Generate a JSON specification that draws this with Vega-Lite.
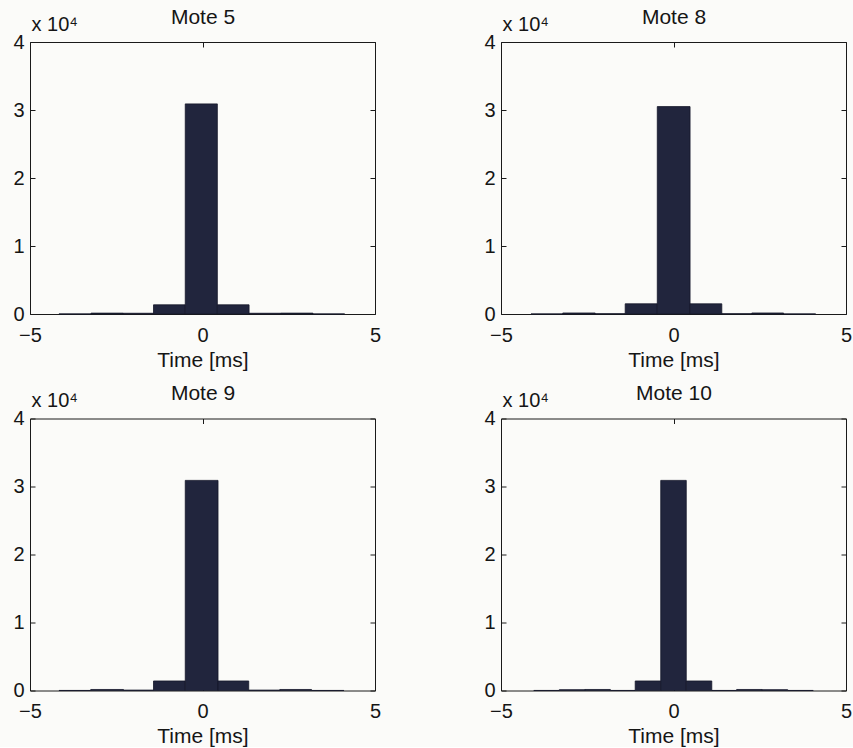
{
  "$schema": "https://vega.github.io/schema/vega-lite/v6.json",
  "background": "#fbfbf9",
  "padding": {"left": 12, "top": 5, "right": 3, "bottom": 0},
  "datasets": {"hist": [
    {"mote": "Mote 5", "x0": -4.16, "x1": -3.23, "count": 10},
    {"mote": "Mote 5", "x0": -3.23, "x1": -2.30, "count": 130},
    {"mote": "Mote 5", "x0": -2.30, "x1": -1.42, "count": 110},
    {"mote": "Mote 5", "x0": -1.42, "x1": -0.50, "count": 1350},
    {"mote": "Mote 5", "x0": -0.50, "x1": 0.43, "count": 30900},
    {"mote": "Mote 5", "x0": 0.43, "x1": 1.35, "count": 1350},
    {"mote": "Mote 5", "x0": 1.35, "x1": 2.27, "count": 110},
    {"mote": "Mote 5", "x0": 2.27, "x1": 3.20, "count": 130},
    {"mote": "Mote 5", "x0": 3.20, "x1": 4.12, "count": 10},
    {"mote": "Mote 8", "x0": -4.13, "x1": -3.21, "count": 10},
    {"mote": "Mote 8", "x0": -3.21, "x1": -2.27, "count": 150},
    {"mote": "Mote 8", "x0": -2.27, "x1": -1.40, "count": 40},
    {"mote": "Mote 8", "x0": -1.40, "x1": -0.47, "count": 1500},
    {"mote": "Mote 8", "x0": -0.47, "x1": 0.48, "count": 30500},
    {"mote": "Mote 8", "x0": 0.48, "x1": 1.40, "count": 1500},
    {"mote": "Mote 8", "x0": 1.40, "x1": 2.27, "count": 40},
    {"mote": "Mote 8", "x0": 2.27, "x1": 3.19, "count": 150},
    {"mote": "Mote 8", "x0": 3.19, "x1": 4.12, "count": 10},
    {"mote": "Mote 9", "x0": -4.16, "x1": -3.24, "count": 10},
    {"mote": "Mote 9", "x0": -3.24, "x1": -2.29, "count": 150},
    {"mote": "Mote 9", "x0": -2.29, "x1": -1.42, "count": 60},
    {"mote": "Mote 9", "x0": -1.42, "x1": -0.50, "count": 1400},
    {"mote": "Mote 9", "x0": -0.50, "x1": 0.45, "count": 30900},
    {"mote": "Mote 9", "x0": 0.45, "x1": 1.34, "count": 1400},
    {"mote": "Mote 9", "x0": 1.34, "x1": 2.24, "count": 60},
    {"mote": "Mote 9", "x0": 2.24, "x1": 3.16, "count": 150},
    {"mote": "Mote 9", "x0": 3.16, "x1": 4.10, "count": 10},
    {"mote": "Mote 10", "x0": -4.05, "x1": -3.31, "count": 10},
    {"mote": "Mote 10", "x0": -3.31, "x1": -2.57, "count": 120},
    {"mote": "Mote 10", "x0": -2.57, "x1": -1.83, "count": 150},
    {"mote": "Mote 10", "x0": -1.83, "x1": -1.11, "count": 10},
    {"mote": "Mote 10", "x0": -1.11, "x1": -0.37, "count": 1400},
    {"mote": "Mote 10", "x0": -0.37, "x1": 0.37, "count": 30900},
    {"mote": "Mote 10", "x0": 0.37, "x1": 1.11, "count": 1400},
    {"mote": "Mote 10", "x0": 1.11, "x1": 1.83, "count": 10},
    {"mote": "Mote 10", "x0": 1.83, "x1": 2.57, "count": 150},
    {"mote": "Mote 10", "x0": 2.57, "x1": 3.31, "count": 120},
    {"mote": "Mote 10", "x0": 3.31, "x1": 4.05, "count": 10}
  ]},
  "columns": 2,
  "spacing": {"row": 104.5, "column": 126},
  "bounds": "flush",
  "concat": [
    {
      "width": 345, "height": 272,
      "data": {"name": "hist"},
      "transform": [{"filter": {"field": "mote", "equal": "Mote 5"}}],
      "layer": [
        {"mark": {"type": "rect", "fill": "#21253d", "stroke": "#14172a", "strokeWidth": 0.8},
          "encoding": {
            "x": {"field": "x0", "type": "quantitative", "scale": {"domain": [-5, 5], "nice": false, "zero": false}, "axis": {"orient": "bottom", "values": [-5, 0, 5], "title": "Time [ms]"}},
            "x2": {"field": "x1"},
            "y": {"field": "count", "type": "quantitative", "scale": {"domain": [0, 40000], "nice": false}, "axis": {"orient": "left", "values": [0, 10000, 20000, 30000, 40000], "labelExpr": "datum.value / 10000", "title": "x 10⁴", "titleAngle": 0, "titleAlign": "left", "titleBaseline": "alphabetic", "titleX": 1, "titleY": -12, "titleFontSize": 20}},
            "y2": {"datum": 0}}},
        {"mark": {"type": "rect", "opacity": 0},
          "encoding": {
            "x": {"field": "x0", "type": "quantitative", "axis": {"orient": "top", "values": [-5, 0, 5], "labels": false, "title": "Mote 5", "titleBaseline": "alphabetic", "titleY": -19}},
            "x2": {"field": "x1"},
            "y": {"field": "count", "type": "quantitative", "axis": {"orient": "right", "values": [0, 10000, 20000, 30000, 40000], "labels": false, "title": null}},
            "y2": {"datum": 0}}}
      ],
      "resolve": {"axis": {"x": "independent", "y": "independent"}}
    },
    {
      "width": 345, "height": 272,
      "data": {"name": "hist"},
      "transform": [{"filter": {"field": "mote", "equal": "Mote 8"}}],
      "layer": [
        {"mark": {"type": "rect", "fill": "#21253d", "stroke": "#14172a", "strokeWidth": 0.8},
          "encoding": {
            "x": {"field": "x0", "type": "quantitative", "scale": {"domain": [-5, 5], "nice": false, "zero": false}, "axis": {"orient": "bottom", "values": [-5, 0, 5], "title": "Time [ms]"}},
            "x2": {"field": "x1"},
            "y": {"field": "count", "type": "quantitative", "scale": {"domain": [0, 40000], "nice": false}, "axis": {"orient": "left", "values": [0, 10000, 20000, 30000, 40000], "labelExpr": "datum.value / 10000", "title": "x 10⁴", "titleAngle": 0, "titleAlign": "left", "titleBaseline": "alphabetic", "titleX": 1, "titleY": -12, "titleFontSize": 20}},
            "y2": {"datum": 0}}},
        {"mark": {"type": "rect", "opacity": 0},
          "encoding": {
            "x": {"field": "x0", "type": "quantitative", "axis": {"orient": "top", "values": [-5, 0, 5], "labels": false, "title": "Mote 8", "titleBaseline": "alphabetic", "titleY": -19}},
            "x2": {"field": "x1"},
            "y": {"field": "count", "type": "quantitative", "axis": {"orient": "right", "values": [0, 10000, 20000, 30000, 40000], "labels": false, "title": null}},
            "y2": {"datum": 0}}}
      ],
      "resolve": {"axis": {"x": "independent", "y": "independent"}}
    },
    {
      "width": 345, "height": 272,
      "data": {"name": "hist"},
      "transform": [{"filter": {"field": "mote", "equal": "Mote 9"}}],
      "layer": [
        {"mark": {"type": "rect", "fill": "#21253d", "stroke": "#14172a", "strokeWidth": 0.8},
          "encoding": {
            "x": {"field": "x0", "type": "quantitative", "scale": {"domain": [-5, 5], "nice": false, "zero": false}, "axis": {"orient": "bottom", "values": [-5, 0, 5], "title": "Time [ms]"}},
            "x2": {"field": "x1"},
            "y": {"field": "count", "type": "quantitative", "scale": {"domain": [0, 40000], "nice": false}, "axis": {"orient": "left", "values": [0, 10000, 20000, 30000, 40000], "labelExpr": "datum.value / 10000", "title": "x 10⁴", "titleAngle": 0, "titleAlign": "left", "titleBaseline": "alphabetic", "titleX": 1, "titleY": -12, "titleFontSize": 20}},
            "y2": {"datum": 0}}},
        {"mark": {"type": "rect", "opacity": 0},
          "encoding": {
            "x": {"field": "x0", "type": "quantitative", "axis": {"orient": "top", "values": [-5, 0, 5], "labels": false, "title": "Mote 9", "titleBaseline": "alphabetic", "titleY": -19}},
            "x2": {"field": "x1"},
            "y": {"field": "count", "type": "quantitative", "axis": {"orient": "right", "values": [0, 10000, 20000, 30000, 40000], "labels": false, "title": null}},
            "y2": {"datum": 0}}}
      ],
      "resolve": {"axis": {"x": "independent", "y": "independent"}}
    },
    {
      "width": 345, "height": 272,
      "data": {"name": "hist"},
      "transform": [{"filter": {"field": "mote", "equal": "Mote 10"}}],
      "layer": [
        {"mark": {"type": "rect", "fill": "#21253d", "stroke": "#14172a", "strokeWidth": 0.8},
          "encoding": {
            "x": {"field": "x0", "type": "quantitative", "scale": {"domain": [-5, 5], "nice": false, "zero": false}, "axis": {"orient": "bottom", "values": [-5, 0, 5], "title": "Time [ms]"}},
            "x2": {"field": "x1"},
            "y": {"field": "count", "type": "quantitative", "scale": {"domain": [0, 40000], "nice": false}, "axis": {"orient": "left", "values": [0, 10000, 20000, 30000, 40000], "labelExpr": "datum.value / 10000", "title": "x 10⁴", "titleAngle": 0, "titleAlign": "left", "titleBaseline": "alphabetic", "titleX": 1, "titleY": -12, "titleFontSize": 20}},
            "y2": {"datum": 0}}},
        {"mark": {"type": "rect", "opacity": 0},
          "encoding": {
            "x": {"field": "x0", "type": "quantitative", "axis": {"orient": "top", "values": [-5, 0, 5], "labels": false, "title": "Mote 10", "titleBaseline": "alphabetic", "titleY": -19}},
            "x2": {"field": "x1"},
            "y": {"field": "count", "type": "quantitative", "axis": {"orient": "right", "values": [0, 10000, 20000, 30000, 40000], "labels": false, "title": null}},
            "y2": {"datum": 0}}}
      ],
      "resolve": {"axis": {"x": "independent", "y": "independent"}}
    }
  ],
  "config": {
    "view": {"stroke": "#1a1a1a", "strokeWidth": 1},
    "axis": {"labelFont": "Liberation Sans", "labelFontSize": 20, "labelColor": "#151515", "titleFont": "Liberation Sans", "titleFontSize": 21, "titleFontWeight": "normal", "titleColor": "#151515", "tickColor": "#1a1a1a", "tickWidth": 1, "tickSize": -5, "domain": false, "grid": false, "labelPadding": 11, "titlePadding": 4},
    "axisX": {"labelPadding": 16, "labelDx": -5, "labelFlush": false},
    "axisTop": {"titlePadding": 0}
  }
}
